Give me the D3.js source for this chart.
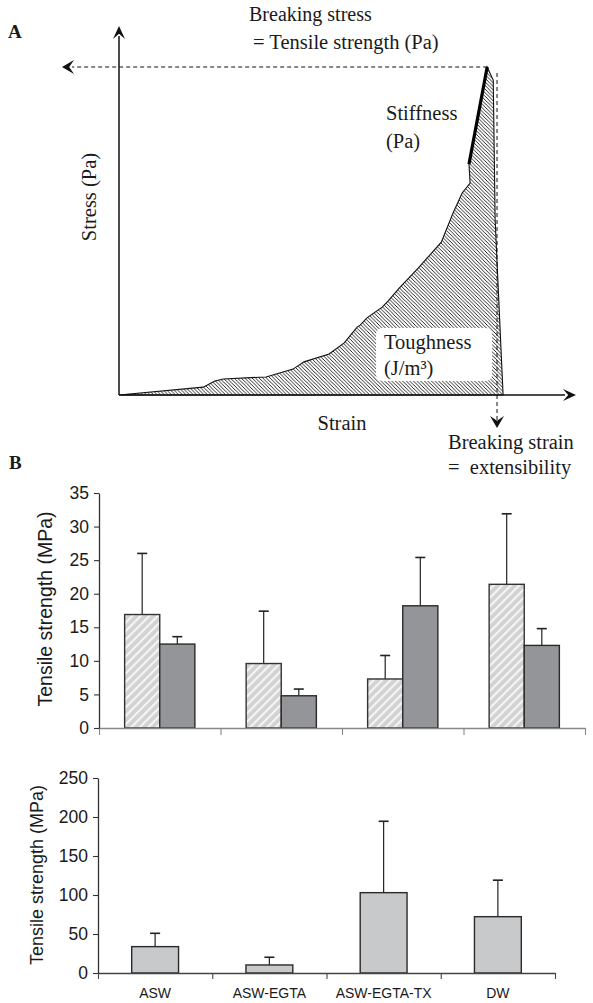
<!DOCTYPE html>
<html>
<head>
<meta charset="utf-8">
<script src="https://cdn.jsdelivr.net/npm/d3@7"></script>
<style>
  body { margin: 0; background: #fff; }
  svg { display: block; }
  .serif { font-family: "Liberation Serif", "Times New Roman", serif; fill: #1a1a1a; }
  .sans { font-family: "Liberation Sans", Arial, sans-serif; fill: #1a1a1a; }
</style>
</head>
<body>
<div id="chart"></div>
<script>
// ---------- panel A: schematic stress-strain curve (arbitrary units) ----------
const curveStrain = [0, 22.2, 25.3, 27.5, 38.8, 45.9, 48.8, 55.4, 59.4, 62.8, 63.6, 65.4, 69.4, 71.0, 73.9, 78.9, 85.0, 88.1, 90.5, 92.6, 92.3, 97.1, 98.7, 99.2, 101.3];
const curveStress = [0, 2.4, 4.3, 4.9, 5.5, 7.9, 10.1, 12.5, 15.9, 20.7, 21.3, 23.5, 26.8, 28.7, 32.6, 38.7, 46.6, 55.5, 61.6, 64.6, 70.4, 100, 96.0, 53.4, 0];
const stiffnessLine = [[92.3, 70.4], [97.1, 100]];
const breakStrain = 99.7;
const peakStress = 100;

// ---------- panel B ----------
const groups = ["ASW", "ASW-EGTA", "ASW-EGTA-TX", "DW"];
const topHatched = [16.9, 9.6, 7.3, 21.4];
const topHatchedSD = [9.1, 7.8, 3.5, 10.5];
const topDark = [12.5, 4.8, 18.2, 12.3];
const topDarkSD = [1.1, 1.0, 7.2, 2.5];
const topTicks = [0, 5, 10, 15, 20, 25, 30, 35];

const bottomValues = [33.8, 10.3, 103, 72.2];
const bottomSD = [17.1, 9.9, 91.5, 46.8];
const bottomTicks = [0, 50, 100, 150, 200, 250];

const W = 593, H = 1003;
const svg = d3.select("#chart").append("svg")
    .attr("width", W)
    .attr("height", H);

const defs = svg.append("defs");

// hatching for the toughness area
defs.append("pattern")
    .attr("id", "hatchA")
    .attr("patternUnits", "userSpaceOnUse")
    .attr("width", 3.6).attr("height", 3.6)
    .append("path")
    .attr("d", "M-1,-1 L4.6,4.6 M-1,2.6 L1,4.6 M2.6,-1 L4.6,1")
    .attr("stroke", "#111")
    .attr("stroke-width", 0.9);

// light grey bar with white diagonal stripes
let hb = defs.append("pattern")
    .attr("id", "hatchB")
    .attr("patternUnits", "userSpaceOnUse")
    .attr("width", 6).attr("height", 6)
    .attr("patternTransform", "rotate(45)");
hb.append("rect").attr("width", 6).attr("height", 6).attr("fill", "#d2d2d2");
hb.append("rect").attr("x", 0).attr("width", 2.2).attr("height", 6).attr("fill", "#f4f4f4");

// stealth arrow head, tip at (x,y), pointing at angle (deg)
function arrowHead(g, x, y, angle, len, half) {
    g.append("path")
        .attr("d", `M0,0 L${-len},${-half} L${-len * 0.6},0 L${-len},${half} Z`)
        .attr("transform", `translate(${x},${y}) rotate(${angle})`)
        .attr("fill", "#111");
}

/* ---------------- Panel A ---------------- */
const xA = d3.scaleLinear().domain([0, 120]).range([119, 574]);
const yA = d3.scaleLinear().domain([0, 100]).range([395, 67]);

const gA = svg.append("g");

gA.append("text").attr("class", "serif")
    .attr("x", 8).attr("y", 38)
    .attr("font-size", 19).attr("font-weight", "bold")
    .text("A");

let curvePts = curveStrain.map((d, i) => [xA(d), yA(curveStress[i])]);

gA.append("path")
    .attr("d", d3.line()(curvePts) + "Z")
    .attr("fill", "url(#hatchA)")
    .attr("stroke", "#111")
    .attr("stroke-width", 1.1);

// toughness label box
gA.append("rect")
    .attr("x", xA(67.8)).attr("y", yA(20.4))
    .attr("width", xA(98.4) - xA(67.8))
    .attr("height", yA(4.3) - yA(20.4))
    .attr("rx", 6)
    .attr("fill", "#fff");

gA.append("text").attr("class", "serif")
    .attr("x", xA(69.9)).attr("y", 349)
    .attr("font-size", 20.5)
    .text("Toughness");
gA.append("text").attr("class", "serif")
    .attr("x", xA(69.9)).attr("y", 375)
    .attr("font-size", 20.5)
    .text("(J/m³)");

// breaking strain dashed line
gA.append("line")
    .attr("x1", xA(breakStrain)).attr("x2", xA(breakStrain))
    .attr("y1", yA(peakStress) + 6).attr("y2", 422)
    .attr("stroke", "#111").attr("stroke-width", 1)
    .attr("stroke-dasharray", "4,3");
arrowHead(gA, xA(breakStrain), 428, 90, 12, 7);

// breaking stress dashed line
gA.append("line")
    .attr("x1", xA(97.1)).attr("x2", 72)
    .attr("y1", yA(peakStress)).attr("y2", yA(peakStress))
    .attr("stroke", "#111").attr("stroke-width", 1)
    .attr("stroke-dasharray", "4,3");
arrowHead(gA, 62, yA(peakStress), 180, 12, 7);

// stiffness line
gA.append("line")
    .attr("x1", xA(stiffnessLine[0][0])).attr("y1", yA(stiffnessLine[0][1]))
    .attr("x2", xA(stiffnessLine[1][0])).attr("y2", yA(stiffnessLine[1][1]))
    .attr("stroke", "#000").attr("stroke-width", 3.2);

// axes
gA.append("line")
    .attr("x1", xA(0)).attr("x2", xA(0))
    .attr("y1", yA(0)).attr("y2", 36)
    .attr("stroke", "#111").attr("stroke-width", 1.5);
arrowHead(gA, xA(0), 26, -90, 13, 6);
gA.append("line")
    .attr("x1", xA(0)).attr("x2", 565)
    .attr("y1", yA(0)).attr("y2", yA(0))
    .attr("stroke", "#111").attr("stroke-width", 1.5);
arrowHead(gA, 576, yA(0), 0, 13, 6);

// labels
gA.append("text").attr("class", "serif")
    .attr("x", 249).attr("y", 21).attr("font-size", 20)
    .text("Breaking stress");
gA.append("text").attr("class", "serif")
    .attr("x", 253).attr("y", 49).attr("font-size", 20.5)
    .text("= Tensile strength (Pa)");
gA.append("text").attr("class", "serif")
    .attr("x", 386).attr("y", 120).attr("font-size", 20.5)
    .text("Stiffness");
gA.append("text").attr("class", "serif")
    .attr("x", 386).attr("y", 148).attr("font-size", 20.5)
    .text("(Pa)");
gA.append("text").attr("class", "serif")
    .attr("transform", "translate(96,197) rotate(-90)")
    .attr("text-anchor", "middle").attr("font-size", 20.5)
    .text("Stress (Pa)");
gA.append("text").attr("class", "serif")
    .attr("x", 342).attr("y", 430).attr("text-anchor", "middle")
    .attr("font-size", 20.5)
    .text("Strain");
gA.append("text").attr("class", "serif")
    .attr("x", 448).attr("y", 449).attr("font-size", 20.5)
    .text("Breaking strain");
gA.append("text").attr("class", "serif")
    .attr("x", 448).attr("y", 474).attr("font-size", 20.5)
    .attr("xml:space", "preserve")
    .text("=  extensibility");

/* ---------------- Panel B ---------------- */
svg.append("text").attr("class", "serif")
    .attr("x", 9).attr("y", 469)
    .attr("font-size", 19).attr("font-weight", "bold")
    .text("B");

function styleAxis(g, col, fs) {
    g.selectAll(".domain").attr("stroke", col).attr("stroke-width", 1.3);
    g.selectAll(".tick line").attr("stroke", col).attr("stroke-width", 1.1);
    g.selectAll(".tick text")
        .attr("font-family", "Liberation Sans, Arial, sans-serif")
        .attr("font-size", fs)
        .attr("fill", "#1a1a1a");
}

function errorBar(g, cx, yTop, yEnd) {
    g.append("line")
        .attr("x1", cx).attr("x2", cx)
        .attr("y1", yTop).attr("y2", yEnd)
        .attr("stroke", "#222").attr("stroke-width", 1.2);
    g.append("line")
        .attr("x1", cx - 5).attr("x2", cx + 5)
        .attr("y1", yEnd).attr("y2", yEnd)
        .attr("stroke", "#222").attr("stroke-width", 1.6);
}

// top chart
const tLeft = 99, tRight = 585, tTop = 493, tBottom = 728;
const x0 = d3.scaleBand().domain(groups).range([tLeft, tRight]);
const x1 = d3.scaleBand().domain(["hatched", "dark"])
    .range([0, x0.bandwidth()])
    .paddingOuter(0.73);
const yT = d3.scaleLinear().domain([0, 35]).range([tBottom, tTop]);
const xEdgeT = d3.scaleLinear().domain([0, groups.length]).range([tLeft, tRight]);

const gT = svg.append("g");

// error bars first, bars drawn over them
groups.forEach((g, i) => {
    errorBar(gT, x0(g) + x1("hatched") + x1.bandwidth() / 2,
        yT(topHatched[i]), yT(topHatched[i] + topHatchedSD[i]));
    errorBar(gT, x0(g) + x1("dark") + x1.bandwidth() / 2,
        yT(topDark[i]), yT(topDark[i] + topDarkSD[i]));
});

gT.selectAll(".barH")
    .data(groups)
    .join("rect")
    .attr("class", "barH")
    .attr("x", d => x0(d) + x1("hatched"))
    .attr("y", (d, i) => yT(topHatched[i]))
    .attr("width", x1.bandwidth())
    .attr("height", (d, i) => yT(0) - yT(topHatched[i]))
    .attr("fill", "url(#hatchB)")
    .attr("stroke", "#333")
    .attr("stroke-width", 1.4);

gT.selectAll(".barD")
    .data(groups)
    .join("rect")
    .attr("class", "barD")
    .attr("x", d => x0(d) + x1("dark"))
    .attr("y", (d, i) => yT(topDark[i]))
    .attr("width", x1.bandwidth())
    .attr("height", (d, i) => yT(0) - yT(topDark[i]))
    .attr("fill", "#939598")
    .attr("stroke", "#2a2a2a")
    .attr("stroke-width", 1.4);

let gTx = gT.append("g")
    .attr("transform", `translate(0,${tBottom})`)
    .call(d3.axisBottom(xEdgeT).ticks(groups.length).tickFormat("").tickSize(7).tickSizeOuter(0));
styleAxis(gTx, "#888", 17.5);

let gTy = gT.append("g")
    .attr("transform", `translate(${tLeft},0)`)
    .call(d3.axisLeft(yT).tickValues(topTicks).tickSize(5).tickPadding(5).tickSizeOuter(0));
styleAxis(gTy, "#333", 17.5);

gT.append("text").attr("class", "sans")
    .attr("transform", `translate(45,609) rotate(-90)`)
    .attr("dy", "0.35em")
    .attr("text-anchor", "middle").attr("font-size", 19.5)
    .text("Tensile strength (MPa)");

// bottom chart
const bLeft = 98, bRight = 555, bTop = 778, bBottom = 973;
const xB = d3.scaleBand().domain(groups).range([bLeft, bRight]);
const yB = d3.scaleLinear().domain([0, 250]).range([bBottom, bTop]);
const xEdgeB = d3.scaleLinear().domain([0, groups.length]).range([bLeft, bRight]);
const barW = xB.bandwidth() * 0.41;

const gB = svg.append("g");

groups.forEach((g, i) => {
    errorBar(gB, xB(g) + xB.bandwidth() / 2, yB(bottomValues[i]), yB(bottomValues[i] + bottomSD[i]));
});

gB.selectAll(".barB")
    .data(groups)
    .join("rect")
    .attr("class", "barB")
    .attr("x", d => xB(d) + (xB.bandwidth() - barW) / 2)
    .attr("y", (d, i) => yB(bottomValues[i]))
    .attr("width", barW)
    .attr("height", (d, i) => yB(0) - yB(bottomValues[i]))
    .attr("fill", "#c8c9cb")
    .attr("stroke", "#2a2a2a")
    .attr("stroke-width", 1.4);

let gBx = gB.append("g")
    .attr("transform", `translate(0,${bBottom})`)
    .call(d3.axisBottom(xEdgeB).ticks(groups.length).tickFormat("").tickSize(6).tickSizeOuter(0));
styleAxis(gBx, "#444", 17);

let gBy = gB.append("g")
    .attr("transform", `translate(${bLeft},0)`)
    .call(d3.axisLeft(yB).tickValues(bottomTicks).tickSize(5).tickPadding(5).tickSizeOuter(0));
styleAxis(gBy, "#333", 17.5);

gB.selectAll(".catLabel")
    .data(groups)
    .join("text")
    .attr("class", "sans catLabel")
    .attr("x", d => xB(d) + xB.bandwidth() / 2)
    .attr("y", 998)
    .attr("text-anchor", "middle")
    .attr("font-size", 14)
    .text(d => d);

gB.append("text").attr("class", "sans")
    .attr("transform", `translate(37,875) rotate(-90)`)
    .attr("dy", "0.35em")
    .attr("text-anchor", "middle").attr("font-size", 18)
    .text("Tensile strength (MPa)");
</script>
</body>
</html>
